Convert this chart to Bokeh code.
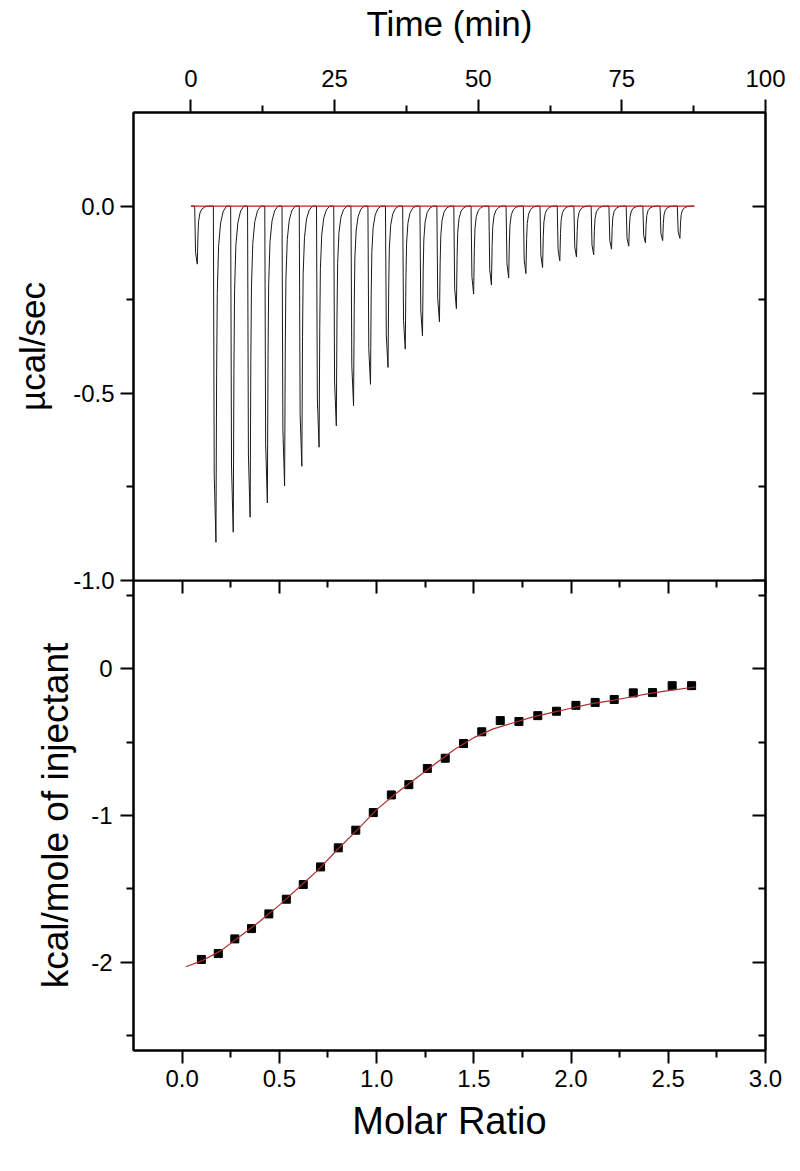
from bokeh.plotting import figure
from bokeh.models import Range1d, LinearAxis, FixedTicker, NumeralTickFormatter
from bokeh.layouts import column
from bokeh.embed import file_html
from bokeh.resources import INLINE

FONT = "Liberation Sans"

# ---------------- data: raw thermogram (top panel) ----------------
peak_time = [1.1, 4.35, 7.36, 10.3, 13.3, 16.3, 19.3, 22.3, 25.3, 28.3, 31.25, 34.3,
             37.3, 40.3, 43.25, 46.2, 49.2, 52.3, 55.3, 58.3, 61.2, 64.2, 67.1, 70.1,
             73.2, 76.2, 79.1, 82.1, 85.1]
peak_depth = [-0.155, -0.898, -0.871, -0.831, -0.793, -0.747, -0.695, -0.644, -0.587,
              -0.533, -0.476, -0.431, -0.382, -0.347, -0.309, -0.274, -0.235, -0.211,
              -0.192, -0.180, -0.164, -0.146, -0.136, -0.130, -0.115, -0.107, -0.098,
              -0.092, -0.086]
# shape of one injection peak (minutes from minimum, fraction of depth)
profile_offset = [-0.45, -0.3, 0.0, 0.12, 0.23, 0.46, 0.81, 1.28, 1.86]
profile_frac = [0.0, 0.8, 1.0, 0.5, 0.26, 0.12, 0.05, 0.015, 0.0]
trace_start = 0.0
trace_end = 87.6
baseline_time = [0.0, 87.6]
baseline_power = [0.0, 0.0]

# ---------------- data: integrated heats (bottom panel) ----------------
molar_ratio = [0.099, 0.186, 0.271, 0.357, 0.446, 0.536, 0.623, 0.712, 0.803, 0.893,
               0.983, 1.076, 1.166, 1.261, 1.353, 1.447, 1.541, 1.636, 1.732, 1.829,
               1.925, 2.025, 2.124, 2.222, 2.32, 2.419, 2.52, 2.62]
heat = [-1.98, -1.94, -1.84, -1.77, -1.67, -1.57, -1.47, -1.35, -1.22, -1.10,
        -0.98, -0.86, -0.79, -0.68, -0.61, -0.51, -0.43, -0.354, -0.36, -0.32,
        -0.29, -0.25, -0.23, -0.21, -0.165, -0.163, -0.116, -0.116]
fit_x = [0.02, 0.1, 0.2, 0.3, 0.4, 0.5, 0.6, 0.7, 0.8, 0.9, 1.0, 1.1, 1.2, 1.3, 1.4,
         1.5, 1.6, 1.7, 1.8, 1.9, 2.0, 2.1, 2.2, 2.3, 2.4, 2.5, 2.64]
fit_y = [-2.03, -1.99, -1.92, -1.82, -1.72, -1.61, -1.49, -1.37, -1.23, -1.10, -0.96,
         -0.85, -0.75, -0.65, -0.55, -0.47, -0.41, -0.37, -0.33, -0.30, -0.27, -0.24,
         -0.22, -0.195, -0.17, -0.15, -0.125]

# ---------------- ticks ----------------
time_ticks = [0, 25, 50, 75, 100]
time_minor = [12.5, 37.5, 62.5, 87.5]
power_ticks = [0.0, -0.5, -1.0]
power_minor = [-0.25, -0.75]
ratio_ticks = [0.0, 0.5, 1.0, 1.5, 2.0, 2.5, 3.0]
ratio_minor = [0.25, 0.75, 1.25, 1.75, 2.25, 2.75]
heat_ticks = [0, -1, -2]
heat_minor = [0.5, -0.5, -1.5, -2.5]

TICK_FS = "24px"
MAJ = 13
MIN = 7
OVERLAP = 14


def style_axis(ax, ticks, minor, fmt=None, outward=True, labels=True,
               title=None, title_fs="35px", label_standoff=10, title_standoff=8):
    ax.ticker = FixedTicker(ticks=ticks, minor_ticks=minor)
    ax.axis_line_color = "black"
    ax.axis_line_width = 2
    ax.major_tick_line_color = "black"
    ax.minor_tick_line_color = "black"
    ax.major_tick_line_width = 2
    ax.minor_tick_line_width = 2
    if outward:
        ax.major_tick_out, ax.major_tick_in = MAJ, 0
        ax.minor_tick_out, ax.minor_tick_in = MIN, 0
    else:
        ax.major_tick_out, ax.major_tick_in = 0, MAJ
        ax.minor_tick_out, ax.minor_tick_in = 0, MIN
    if fmt is not None:
        ax.formatter = NumeralTickFormatter(format=fmt)
    if labels:
        ax.major_label_text_font = FONT
        ax.major_label_text_font_size = TICK_FS
        ax.major_label_text_color = "black"
        ax.major_label_standoff = label_standoff
    else:
        ax.major_label_text_font_size = "1px"
        ax.major_label_text_color = None
        ax.major_label_standoff = 0
    if title:
        ax.axis_label = title
        ax.axis_label_text_font = FONT
        ax.axis_label_text_font_size = title_fs
        ax.axis_label_text_font_style = "normal"
        ax.axis_label_text_color = "black"
        ax.axis_label_standoff = title_standoff


def base_fig(xr, yr, fh, mbt, mbb, xloc):
    p = figure(frame_width=632, frame_height=fh, x_range=xr, y_range=yr,
               output_backend="svg", toolbar_location=None, x_axis_location=xloc,
               min_border_left=133, min_border_right=20, min_border_top=mbt,
               min_border_bottom=mbb, background_fill_color="white",
               border_fill_color="white")
    p.xgrid.grid_line_color = None
    p.ygrid.grid_line_color = None
    p.outline_line_color = "black"
    p.outline_line_width = 2
    p.outline_line_alpha = 1
    return p


# ---------------- top panel ----------------
top = base_fig(Range1d(-10, 100), Range1d(-1.0, 0.25), 468, 112, OVERLAP, "above")
style_axis(top.xaxis[0], time_ticks, time_minor, fmt="0", title="Time (min)",
           title_fs="35px", label_standoff=13, title_standoff=24)
style_axis(top.yaxis[0], power_ticks, power_minor, fmt="0.0", title="µcal/sec",
           title_fs="35px", label_standoff=6, title_standoff=18)
r_top = LinearAxis()
style_axis(r_top, power_ticks, power_minor, outward=False, labels=False)
top.add_layout(r_top, "right")

tr_t = [trace_start]
tr_y = [0.0]
for t0, d in zip(peak_time, peak_depth):
    for off, fr in zip(profile_offset, profile_frac):
        tr_t.append(t0 + off)
        tr_y.append(d * fr)
tr_t.append(trace_end)
tr_y.append(0.0)
top.line(tr_t, tr_y, line_color="#1a1a1a", line_width=1)
top.line(baseline_time, baseline_power, line_color="#d01818", line_width=1.2)

# ---------------- bottom panel ----------------
bot = base_fig(Range1d(-0.25, 3.0), Range1d(-2.6, 0.6), 470, 0, 100, "below")
bot.border_fill_alpha = 0
bot.margin = (-OVERLAP, 0, 0, 0)
style_axis(bot.xaxis[0], ratio_ticks, ratio_minor, fmt="0.0", title="Molar Ratio",
           title_fs="38px", label_standoff=6, title_standoff=10)
style_axis(bot.yaxis[0], heat_ticks, heat_minor, fmt="0",
           title="kcal/mole of injectant", title_fs="37px", label_standoff=8,
           title_standoff=12)
r_bot = LinearAxis()
style_axis(r_bot, heat_ticks, heat_minor, outward=False, labels=False)
bot.add_layout(r_bot, "right")
a_bot = LinearAxis()
style_axis(a_bot, ratio_ticks, ratio_minor, outward=False, labels=False)
bot.add_layout(a_bot, "above")

bot.scatter(molar_ratio, heat, marker="square", size=8, fill_color="black",
            line_color="black")
bot.line(fit_x, fit_y, line_color="#a8302c", line_width=1.2)

layout = column(top, bot, spacing=0)
open("out.html", "w").write(file_html(layout, INLINE))
